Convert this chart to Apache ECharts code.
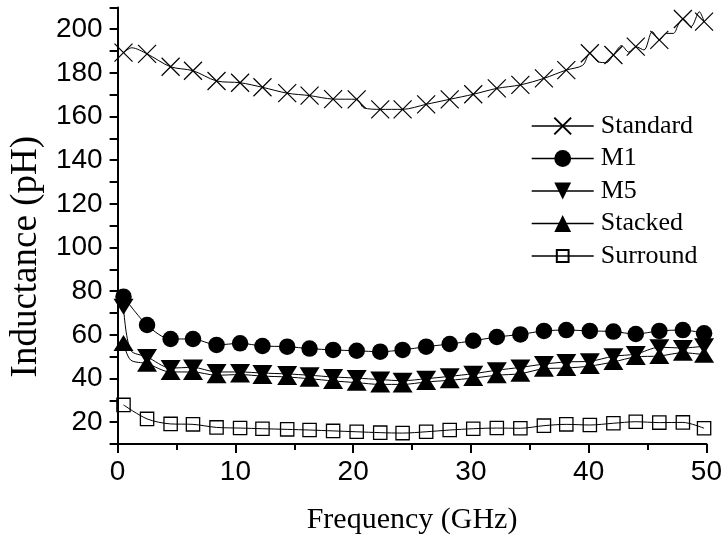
<!DOCTYPE html>
<html>
<head>
<meta charset="utf-8">
<script src="https://cdn.jsdelivr.net/npm/echarts@6/dist/echarts.min.js"></script>
<style>
html,body{margin:0;padding:0;background:#fff;}
#chart{width:725px;height:541px;}
</style>
</head>
<body>
<div id="chart"></div>
<script>
// Marker frequencies (GHz)
var freq = [0.5, 2.5, 4.5, 6.4, 8.4, 10.4, 12.3, 14.4, 16.3, 18.3, 20.3, 22.3, 24.2, 26.2, 28.2, 30.2, 32.2, 34.2, 36.2, 38.1, 40.1, 42.1, 44.0, 46.0, 48.0, 49.8];
// Inductance values (pH) at the markers
var standard = [189.3, 188.7, 182.8, 181.0, 176.3, 175.5, 173.4, 170.7, 169.6, 168.0, 167.9, 163.3, 163.3, 165.6, 167.9, 170.2, 172.9, 174.5, 177.5, 181.3, 189.0, 188.2, 192.0, 195.1, 204.7, 203.5];
var m1 = [77.5, 64.5, 58.1, 58.1, 55.4, 56.1, 54.9, 54.6, 53.7, 53.1, 52.7, 52.3, 53.1, 54.6, 55.8, 57.3, 59.0, 60.2, 61.8, 62.2, 61.8, 61.5, 60.4, 61.8, 62.2, 60.7];
var m5 = [72.9, 49.9, 44.8, 45.1, 43.0, 43.0, 42.5, 42.1, 41.5, 40.7, 40.2, 39.5, 39.0, 39.9, 41.0, 42.2, 43.8, 45.1, 46.6, 47.6, 47.9, 50.2, 51.2, 54.3, 54.0, 54.8];
var stacked = [56.3, 46.8, 43.0, 43.0, 41.5, 41.8, 41.1, 40.7, 39.9, 38.9, 38.1, 37.3, 37.3, 38.4, 39.2, 40.2, 41.5, 42.2, 44.5, 44.8, 45.7, 47.6, 49.9, 50.3, 51.8, 50.9];
var surround = [27.9, 21.5, 19.2, 19.0, 17.6, 17.3, 17.0, 16.7, 16.4, 16.0, 15.6, 15.2, 15.0, 15.6, 16.4, 17.0, 17.3, 17.2, 18.4, 19.0, 18.7, 19.5, 20.2, 19.8, 19.9, 17.2];
// Extra line-only points (curve between markers)
var standardExtraF = [1.2, 20.9, 39.5, 40.8, 41.5, 42.8, 43.4, 44.7, 45.4, 46.6, 47.2, 47.6, 48.7, 49.4];
var standardExtraV = [191.5, 164.0, 183.5, 185.1, 184.7, 192.5, 189.5, 190.5, 198.9, 198.1, 198.1, 201.9, 201.2, 208.0];
var m5ExtraF = [1.1];
var m5ExtraV = [53.0];
var stackedExtraF = [1.1];
var stackedExtraV = [48.5];
// Axis ticks
var xTicks = [0, 10, 20, 30, 40, 50];
var yTicks = [20, 40, 60, 80, 100, 120, 140, 160, 180, 200];
var seriesNames = ['Standard', 'M1', 'M5', 'Stacked', 'Surround'];

function build(vals, exF, exV) {
  var pts = [];
  for (var i = 0; i < freq.length; i++) pts.push({value: [freq[i], vals[i]]});
  if (exF) for (var j = 0; j < exF.length; j++) pts.push({value: [exF[j], exV[j]], symbol: 'none'});
  pts.sort(function (a, b) { return a.value[0] - b.value[0]; });
  return pts;
}

var chart = echarts.init(document.getElementById('chart'), null, {renderer: 'canvas'});
var serifFont = '"Liberation Serif", "Times New Roman", serif';
var sansFont = '"Liberation Sans", Arial, sans-serif';

function lineSeries(name, data, symbol, size, extra) {
  var s = {
    name: name,
    type: 'line',
    data: data,
    smooth: 0.3,
    symbol: symbol,
    symbolSize: size,
    showAllSymbol: true,
    lineStyle: {color: '#000', width: 1},
    itemStyle: {color: '#000', borderColor: '#000', borderWidth: 0},
    emphasis: {disabled: true},
    animation: false
  };
  for (var k in extra) s[k] = extra[k];
  return s;
}

var option = {
  animation: false,
  backgroundColor: '#fff',
  grid: {left: 115, right: 18.3, top: 7.4, bottom: 97, containLabel: false},
  legend: {
    orient: 'vertical',
    left: 531,
    top: 113,
    padding: 0,
    itemWidth: 62,
    itemHeight: 21,
    itemGap: 6.5,
    data: seriesNames,
    lineStyle: {color: '#000', width: 1.4},
    textStyle: {fontFamily: serifFont, fontSize: 26, color: '#000', padding: [0, 0, 0, 2]}
  },
  xAxis: {
    type: 'value',
    min: xTicks[0],
    max: xTicks[xTicks.length - 1],
    interval: 10,
    name: 'Frequency (GHz)',
    nameLocation: 'middle',
    nameGap: 61,
    nameTextStyle: {fontFamily: serifFont, fontSize: 30, color: '#000'},
    axisLine: {show: true, onZero: false, lineStyle: {color: '#000', width: 2}},
    axisTick: {show: true, length: 9, lineStyle: {color: '#000', width: 2}},
    minorTick: {show: true, splitNumber: 2, length: 6, lineStyle: {color: '#000', width: 2}},
    splitLine: {show: false},
    axisLabel: {fontFamily: sansFont, fontSize: 28, color: '#000', margin: 14}
  },
  yAxis: {
    type: 'value',
    min: 10,
    max: 210,
    interval: 10,
    name: 'Inductance (pH)',
    nameLocation: 'middle',
    nameGap: 72,
    nameRotate: 90,
    nameTextStyle: {fontFamily: serifFont, fontSize: 37, color: '#000', padding: [0, 62, 0, 0]},
    axisLine: {show: true, onZero: false, lineStyle: {color: '#000', width: 2}},
    axisTick: {show: true, length: 8, lineStyle: {color: '#000', width: 2}},
    splitLine: {show: false},
    axisLabel: {
      fontFamily: sansFont, fontSize: 28, color: '#000', margin: 15,
      formatter: function (v) { return yTicks.indexOf(v) >= 0 ? String(v) : ''; }
    }
  },
  series: [
    lineSeries('Standard', build(standard, standardExtraF, standardExtraV), 'path://M0,0L10,10M10,0L0,10', 18,
      {itemStyle: {color: '#000', borderColor: '#000', borderWidth: 1.2}}),
    lineSeries('M1', build(m1), 'circle', 16.5, {}),
    lineSeries('M5', build(m5, m5ExtraF, m5ExtraV), 'triangle', [20, 16], {symbolRotate: 180}),
    lineSeries('Stacked', build(stacked, stackedExtraF, stackedExtraV), 'triangle', [20, 16], {}),
    lineSeries('Surround', build(surround), 'path://M0,0M20,20M3,3L17,3L17,17L3,17Z', 19,
      {itemStyle: {color: 'transparent', borderColor: '#000', borderWidth: 1.3}})
  ]
};
chart.setOption(option);
</script>
</body>
</html>
